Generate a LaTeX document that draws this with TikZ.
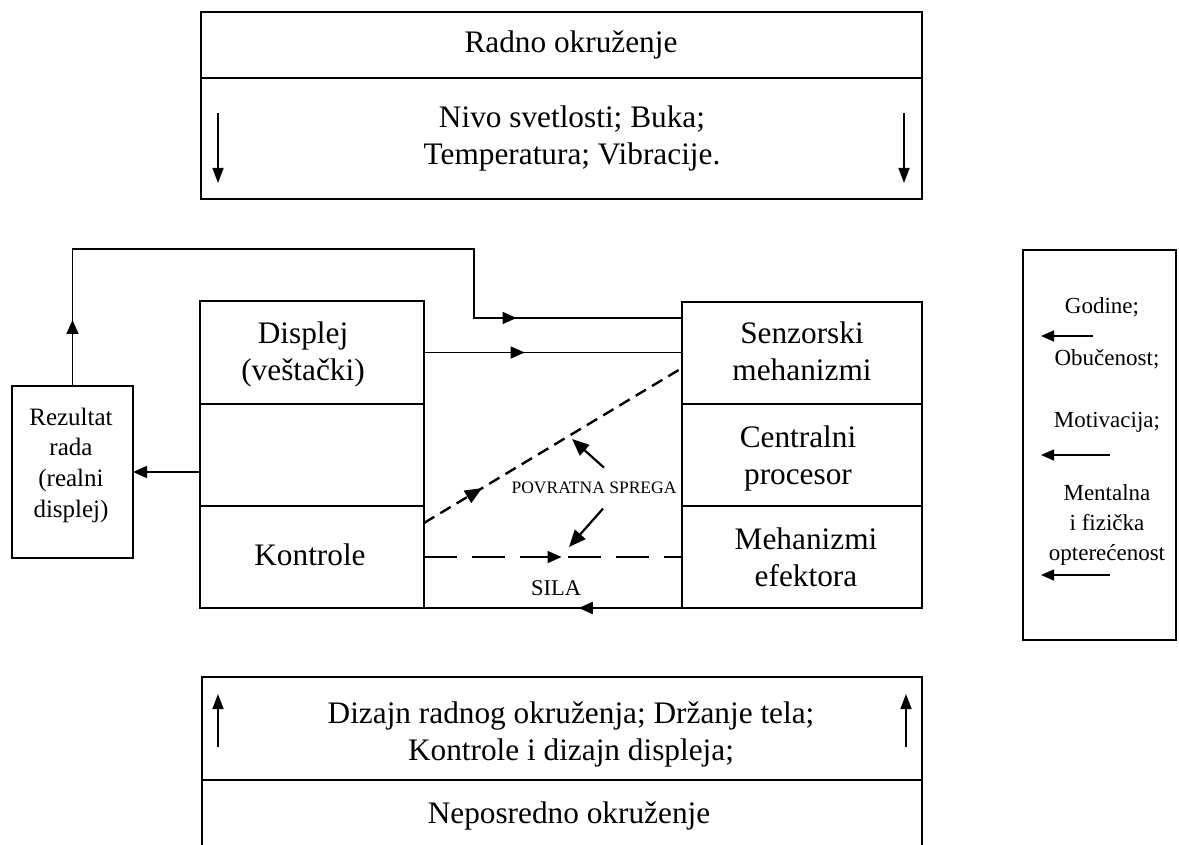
\documentclass[tikz,border=0pt]{standalone}
\usepackage{fontspec}
\setmainfont{Liberation Serif}
\usetikzlibrary{arrows.meta,decorations.markings}
\newcommand\mlines[1]{\begin{tabular}[t]{@{}c@{}}#1\end{tabular}}
\begin{document}
\begin{tikzpicture}[x=1pt,y=-1pt,
  >={Triangle[length=14pt,width=12pt]},
  cell/.style={draw, line width=1.7pt, inner sep=0pt, outer sep=0pt},
  blankcell/.style={inner sep=0pt, outer sep=0pt},
  txt/.style={inner sep=0pt, anchor=base, font=\fontsize{31.3pt}{37pt}\selectfont},
  rtxt/.style={inner sep=0pt, anchor=base, font=\fontsize{25pt}{30.7pt}\selectfont},
  htxt/.style={inner sep=0pt, anchor=base, font=\fontsize{23pt}{30pt}\selectfont},
  conn/.style={line width=1.7pt},
  dashline/.style={line width=2.4pt, dash pattern=on 12pt off 7pt},
  silaline/.style={line width=1.8pt, dash pattern=on 33pt off 15pt},
  midarrow/.style={postaction={solid, decorate}, decoration={markings, mark=at position #1 with {\arrow{>}}}},
  bigmidarrow/.style={postaction={solid, decorate}, decoration={markings, mark=at position #1 with {\arrow{Triangle[length=17pt,width=14pt]}}}},
  envarrow/.style={line width=1.4pt, -{Triangle[length=15pt,width=11pt]}},
  fbarrow/.style={line width=2.2pt, -{Triangle[length=17pt,width=14pt]}},
  harrow/.style={line width=1.6pt, -{Triangle[length=13pt,width=11pt]}}
]
\useasboundingbox (0,0) rectangle (1179,845);

% Radno okruzenje
\node[cell, minimum width=721pt, minimum height=66pt] (envtop) at (561.5,45) {};
\node[cell, minimum width=721pt, minimum height=121pt] (envfac) at (561.5,138.5) {};
\node[txt] (radno) at (571,53) {Radno okruženje};
\node[txt] (nivo) at (572,128) {\mlines{Nivo svetlosti; Buka;\\Temperatura; Vibracije.}};
\coordinate (ea1) at (218,113); \coordinate (eb1) at (218,183);
\coordinate (ea2) at (904,113); \coordinate (eb2) at (904,183);
\draw[envarrow] (ea1) -- (eb1);
\draw[envarrow] (ea2) -- (eb2);

% covek-masina: levi blok
\node[cell, minimum width=224pt, minimum height=103pt] (disp) at (312,352.5) {};
\node[cell, minimum width=224pt, minimum height=102pt] (blank) at (312,455) {};
\node[cell, minimum width=224pt, minimum height=102pt] (kont) at (312,557) {};
\node[txt] (disptxt) at (303,343) {\mlines{Displej\\(veštački)}};
\node[txt] (konttxt) at (310,565) {Kontrole};

% desni blok
\node[cell, minimum width=240pt, minimum height=102pt] (senz) at (802,353) {};
\node[cell, minimum width=240pt, minimum height=102pt] (cpu) at (802,455) {};
\node[cell, minimum width=240pt, minimum height=102pt] (mehef) at (802,557) {};
\node[txt] (senztxt) at (802,343) {\mlines{Senzorski\\mehanizmi}};
\node[txt] (cputxt) at (798,447) {\mlines{Centralni\\procesor}};
\node[txt] (mehtxt) at (806,549) {\mlines{Mehanizmi\\efektora}};

% rezultat rada
\node[cell, minimum width=121pt, minimum height=172pt] (rez) at (72.5,472) {};
\node[rtxt] (reztxt) at (71,425) {\mlines{Rezultat\\rada\\(realni\\displej)}};

% ljudski faktori
\node[cell, minimum width=153pt, minimum height=390pt] (human) at (1099.5,445) {};
\node[htxt] (god) at (1102,313) {Godine;};
\node[htxt] (obu) at (1107,365) {Obučenost;};
\node[htxt] (mot) at (1107,427) {Motivacija;};
\node[htxt] (men) at (1107,500) {\mlines{Mentalna\\i fizička\\opterećenost}};
\coordinate (h1a) at (1093,336); \coordinate (h1b) at (1041,336);
\coordinate (h2a) at (1110,455); \coordinate (h2b) at (1041,455);
\coordinate (h3a) at (1110,575); \coordinate (h3b) at (1041,575);
\draw[harrow] (h1a) -- (h1b);
\draw[harrow] (h2a) -- (h2b);
\draw[harrow] (h3a) -- (h3b);

% neposredno okruzenje
\node[cell, minimum width=720pt, minimum height=103pt] (dsg) at (562,728.5) {};
\node[blankcell, minimum width=720pt, minimum height=65pt] (nepos) at (562,812.5) {};
\draw[line width=1.7pt] (nepos.south west) -- (nepos.north west) -- (nepos.north east) -- (nepos.south east);
\node[txt] (dsgtxt) at (571,723) {\mlines{Dizajn radnog okruženja; Držanje tela;\\Kontrole i dizajn displeja;}};
\node[txt] (neptxt) at (569,823) {Neposredno okruženje};
\coordinate (ua1) at (218,747); \coordinate (ub1) at (218,694);
\coordinate (ua2) at (906,747); \coordinate (ub2) at (906,694);
\draw[envarrow] (ua1) -- (ub1);
\draw[envarrow] (ua2) -- (ub2);

% veze
\draw[conn, midarrow=0.39] (disp.east) -- (disp.east -| senz.west);
\coordinate (fbtop) at (474,249);
\coordinate (fbdrop) at (474,318);
\draw[conn, postaction={decorate}, decoration={markings,
    mark=at position 66pt with {\arrow{>}},
    mark=at position 650pt with {\arrow{>}}}]
  (rez.north) |- (fbtop) -- (fbdrop) -- (fbdrop -| senz.west);
\draw[conn, ->] (rez.east -| blank.west) -- (rez.east);
\coordinate (dfrom) at (424,523);
\coordinate (dto) at (682,368);
\draw[dashline, bigmidarrow=0.225] (dfrom) -- (dto);
\draw[silaline, midarrow=0.533] (kont.east) -- (kont.east -| mehef.west);
\draw[conn, midarrow=0.40] (kont.south east -| mehef.west) -- (kont.south east);

% oznake
\node[inner sep=0pt, anchor=base, font=\fontsize{17.5pt}{20pt}\selectfont] (pov) at (594,493.3) {POVRATNA SPREGA};
\node[inner sep=0pt, anchor=base, font=\fontsize{22.5pt}{26pt}\selectfont] (sila) at (556,595) {SILA};
\coordinate (fbt1) at (572,439);
\coordinate (fbt2) at (569,547);
\draw[fbarrow] ([shift={(10,-20)}]pov.center) -- (fbt1);
\draw[fbarrow] ([shift={(9,21)}]pov.center) -- (fbt2);
\end{tikzpicture}
\end{document}
